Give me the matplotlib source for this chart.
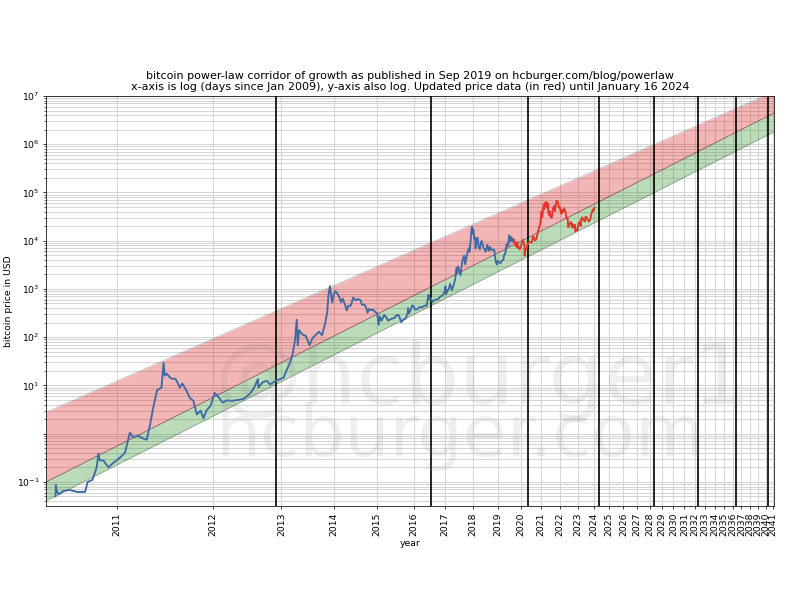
import numpy as np
import pandas as pd
import matplotlib
matplotlib.use("Agg")
import matplotlib.pyplot as plt
from matplotlib.ticker import FixedLocator, NullLocator, LogLocator

START = pd.Timestamp("2009-01-01")

# price history as in the 2019 article (blue)
hist_dates = [
    "2010-07-17", "2010-07-18", "2010-07-20", "2010-07-25", "2010-08-05", "2010-08-20",
    "2010-09-10", "2010-09-30", "2010-10-07", "2010-10-20", "2010-11-01", "2010-11-06",
    "2010-11-10", "2010-11-20", "2010-12-05", "2010-12-20", "2011-01-05", "2011-01-25",
    "2011-02-10", "2011-02-20", "2011-03-10", "2011-03-25", "2011-04-08", "2011-04-20",
    "2011-05-01", "2011-05-15", "2011-05-31", "2011-06-08", "2011-06-12", "2011-06-20",
    "2011-07-05", "2011-07-25", "2011-08-10", "2011-08-20", "2011-09-05", "2011-09-20",
    "2011-10-05", "2011-10-20", "2011-11-05", "2011-11-18", "2011-12-01", "2011-12-20",
    "2012-01-08", "2012-01-25", "2012-02-15", "2012-03-05", "2012-04-01", "2012-05-01",
    "2012-06-01", "2012-07-01", "2012-07-25", "2012-08-16", "2012-08-19", "2012-09-10",
    "2012-10-05", "2012-10-25", "2012-11-20", "2012-12-20", "2013-01-15", "2013-02-01",
    "2013-02-25", "2013-03-15", "2013-03-30", "2013-04-09", "2013-04-16", "2013-04-25",
    "2013-05-15", "2013-06-10", "2013-07-05", "2013-07-25", "2013-08-15", "2013-09-10",
    "2013-10-02", "2013-10-25", "2013-11-10", "2013-11-18", "2013-11-30", "2013-12-07",
    "2013-12-18", "2013-12-28", "2014-01-10", "2014-01-25", "2014-02-10", "2014-02-25",
    "2014-03-10", "2014-03-28", "2014-04-11", "2014-04-25", "2014-05-15", "2014-06-03",
    "2014-06-25", "2014-07-15", "2014-08-05", "2014-08-18", "2014-09-10", "2014-09-25",
    "2014-10-05", "2014-10-20", "2014-11-10", "2014-11-25", "2014-12-15", "2015-01-01",
    "2015-01-14", "2015-01-25", "2015-02-10", "2015-03-10", "2015-04-01", "2015-04-15",
    "2015-05-15", "2015-06-15", "2015-07-10", "2015-07-30", "2015-08-24", "2015-09-15",
    "2015-10-10", "2015-10-30", "2015-11-04", "2015-11-11", "2015-12-01", "2015-12-15",
    "2016-01-05", "2016-01-15", "2016-02-10", "2016-03-05", "2016-04-01", "2016-05-01",
    "2016-05-25", "2016-06-16", "2016-06-25", "2016-07-10", "2016-08-02", "2016-08-20",
    "2016-09-15", "2016-10-10", "2016-10-28", "2016-11-15", "2016-12-10", "2016-12-30",
    "2017-01-04", "2017-01-11", "2017-01-25", "2017-02-15", "2017-03-03", "2017-03-25",
    "2017-04-15", "2017-05-05", "2017-05-25", "2017-05-27", "2017-06-12", "2017-06-25",
    "2017-07-16", "2017-07-25", "2017-08-15", "2017-09-01", "2017-09-15", "2017-10-01",
    "2017-10-20", "2017-11-07", "2017-11-12", "2017-11-28", "2017-12-08", "2017-12-17",
    "2017-12-22", "2018-01-06", "2018-01-17", "2018-01-28", "2018-02-06", "2018-02-20",
    "2018-03-05", "2018-03-18", "2018-04-06", "2018-04-24", "2018-05-05", "2018-05-28",
    "2018-06-10", "2018-06-29", "2018-07-25", "2018-08-14", "2018-09-05", "2018-09-15",
    "2018-10-15", "2018-11-05", "2018-11-25", "2018-12-15", "2018-12-25", "2019-01-10",
    "2019-02-07", "2019-02-25", "2019-03-25", "2019-04-05", "2019-04-25", "2019-05-14",
    "2019-05-30", "2019-06-10", "2019-06-26", "2019-07-10", "2019-07-16", "2019-08-05",
    "2019-08-29", "2019-09-05",
]
hist_prices = [
    0.05, 0.086, 0.065, 0.055, 0.065, 0.068,
    0.062, 0.062, 0.10, 0.11, 0.20, 0.39,
    0.28, 0.28, 0.20, 0.25, 0.30, 0.40,
    1.05, 0.85, 0.90, 0.80, 0.75, 1.6,
    3.5, 8.0, 9.0, 29.6, 16, 17.5,
    14, 13.5, 9, 11, 8, 5.5,
    4.8, 2.5, 3.0, 2.1, 3.0, 3.8,
    7.0, 5.8, 4.4, 4.9, 4.8, 5.0,
    5.3, 6.6, 8.8, 13.5, 9.0, 11.5,
    12.5, 10.5, 12.0, 13.4, 14.5, 20,
    30, 47, 92, 230, 68, 140,
    115, 105, 68, 95, 110, 130,
    110, 190, 330, 700, 1150, 800,
    520, 750, 900, 820, 680, 530,
    630, 480, 360, 450, 450, 660,
    580, 620, 585, 470, 475, 400,
    320, 385, 360, 375, 330, 315,
    180, 270, 220, 290, 250, 220,
    240, 250, 290, 285, 205, 230,
    245, 320, 400, 310, 370, 455,
    430, 375, 380, 420, 415, 450,
    450, 760, 610, 650, 540, 580,
    610, 617, 690, 710, 770, 960,
    1130, 780, 900, 1010, 1270, 940,
    1180, 1550, 2700, 2050, 2950, 2500,
    1920, 2700, 4200, 4900, 3250, 4400,
    6000, 7100, 5900, 9800, 16000, 19500,
    13800, 17100, 11000, 11700, 6900, 11200,
    11500, 7900, 6600, 9600, 9800, 7100,
    6800, 5900, 8200, 6200, 7400, 6500,
    6600, 6400, 3800, 3200, 3800, 3650,
    3400, 3800, 4000, 5000, 5400, 8000,
    8700, 7800, 12900, 12300, 9500, 11700,
    9500, 10600,
]

# updated prices after publication (red)
new_dates = [
    "2019-09-05", "2019-09-18", "2019-09-25", "2019-10-10", "2019-10-23", "2019-10-26",
    "2019-11-15", "2019-11-25", "2019-12-10", "2019-12-18", "2020-01-01", "2020-01-20",
    "2020-02-13", "2020-03-08", "2020-03-12", "2020-03-25", "2020-04-15", "2020-04-30",
    "2020-05-10", "2020-05-31", "2020-06-15", "2020-07-15", "2020-08-01", "2020-08-17",
    "2020-09-05", "2020-10-01", "2020-10-21", "2020-11-05", "2020-11-30", "2020-12-17",
    "2021-01-08", "2021-01-22", "2021-02-08", "2021-02-21", "2021-02-28", "2021-03-13",
    "2021-03-25", "2021-04-13", "2021-04-25", "2021-05-08", "2021-05-19", "2021-06-08",
    "2021-06-15", "2021-06-22", "2021-07-20", "2021-08-14", "2021-09-06", "2021-09-21",
    "2021-10-20", "2021-11-09", "2021-11-28", "2021-12-04", "2021-12-27", "2022-01-10",
    "2022-01-24", "2022-02-10", "2022-02-24", "2022-03-28", "2022-04-26", "2022-05-12",
    "2022-06-05", "2022-06-18", "2022-07-08", "2022-07-30", "2022-08-14", "2022-09-06",
    "2022-09-12", "2022-10-10", "2022-11-05", "2022-11-09", "2022-11-21", "2022-12-15",
    "2022-12-30", "2023-01-20", "2023-02-16", "2023-03-10", "2023-03-20", "2023-04-14",
    "2023-05-12", "2023-06-15", "2023-06-23", "2023-07-13", "2023-08-17", "2023-09-11",
    "2023-10-16", "2023-10-24", "2023-11-15", "2023-12-05", "2023-12-18", "2024-01-02",
    "2024-01-11", "2024-01-16",
]
new_prices = [
    10600, 10200, 8450, 8600, 7450, 9250,
    8500, 7000, 7200, 6650, 7200, 8700,
    10350, 8000, 4900, 6700, 6600, 8800,
    8600, 9500, 9400, 9200, 11800, 12300,
    10100, 10600, 12900, 15600, 19600, 23000,
    40700, 30800, 46000, 57500, 45000, 61000,
    52000, 63500, 49000, 58800, 37000, 33500,
    40200, 32500, 29800, 47000, 52600, 40700,
    65900, 67500, 57000, 49000, 50700, 41800,
    36300, 43600, 38300, 47100, 38100, 29000,
    29900, 19000, 21600, 23800, 24400, 18800,
    22400, 19100, 21300, 15900, 15800, 17400,
    16600, 22700, 24300, 20200, 28000, 30500,
    26200, 25100, 30700, 31400, 26600, 25100,
    28500, 34500, 37900, 44000, 41400, 45900,
    46600, 48500,
]

halving_dates = ["2012-11-28", "2016-07-09", "2020-05-11", "2024-05-08",
                 "2028-05-05", "2032-05-02", "2036-04-29", "2040-04-26"]
years = list(range(2011, 2042))

# corridor lines: log10(price) = a + b * log10(days)
center_a, center_b = -16.634, 5.721
lower_shift = -0.39
upper_a, upper_b = -13.136, 4.97

x_range = [540, 11735]
y_range = [0.032, 1e7]


def days_since(dates):
    return (pd.to_datetime(dates) - START).days.values


fig = plt.figure(figsize=(12, 9), dpi=800 / 12)
ax = fig.add_axes([0.0575, 0.157, 0.91, 0.683])

d = np.geomspace(x_range[0], x_range[1], 300)
center = 10 ** (center_a + center_b * np.log10(d))
lower = center * 10 ** lower_shift
upper = 10 ** (upper_a + upper_b * np.log10(d))

ax.fill_between(d, center, upper, color='#d81010', alpha=0.3, lw=0, zorder=2)
ax.fill_between(d, lower, center, color='#20881a', alpha=0.3, lw=0, zorder=2)
ax.plot(d, upper, color='k', lw=0.7, alpha=0.3, zorder=3)
ax.plot(d, center, color='k', lw=0.9, alpha=0.45, zorder=3)
ax.plot(d, lower, color='k', lw=0.7, alpha=0.3, zorder=3)

ax.plot(days_since(hist_dates), hist_prices, color='#3d6aa3', lw=2, zorder=5)
ax.plot(days_since(new_dates), new_prices, color='#e2362b', lw=2, zorder=5)

for hd in days_since(halving_dates):
    ax.axvline(hd, color='k', lw=1.8, zorder=4)

ax.set_xscale('log')
ax.set_yscale('log')
ax.set_xlim(x_range)
ax.set_ylim(y_range)

year_days = days_since([f"{y}-01-01" for y in years])
ax.xaxis.set_major_locator(FixedLocator(year_days))
ax.set_xticklabels([str(y) for y in years], rotation=90)
ax.xaxis.set_minor_locator(NullLocator())

ydec = list(range(-1, 8))
ax.yaxis.set_major_locator(FixedLocator([10.0 ** k for k in ydec]))
ax.set_yticklabels(['' if k == 0 else r'$\mathdefault{10^{%d}}$' % k for k in ydec])
ax.yaxis.set_minor_locator(LogLocator(subs=np.arange(2, 10), numticks=50))

ax.grid(True, which='major', axis='x', color='#d2d2d2', lw=1, zorder=0)
ax.grid(True, which='both', axis='y', color='#d2d2d2', lw=1, zorder=0)
ax.set_axisbelow(True)

ax.set_title("bitcoin power-law corridor of growth as published in Sep 2019 on hcburger.com/blog/powerlaw\n"
             "x-axis is log (days since Jan 2009), y-axis also log. Updated price data (in red) until January 16 2024")
ax.set_xlabel('year')
ax.set_ylabel('bitcoin price in USD')

# watermark
fig.text(214 / 800, 1 - 404 / 600, '@hcburger1', fontsize=94, color='gray', alpha=0.12, va='baseline')
fig.text(216 / 800, 1 - 456 / 600, 'hcburger.com', fontsize=77, color='gray', alpha=0.12, va='baseline')

fig.savefig('out.png', dpi=800 / 12)
